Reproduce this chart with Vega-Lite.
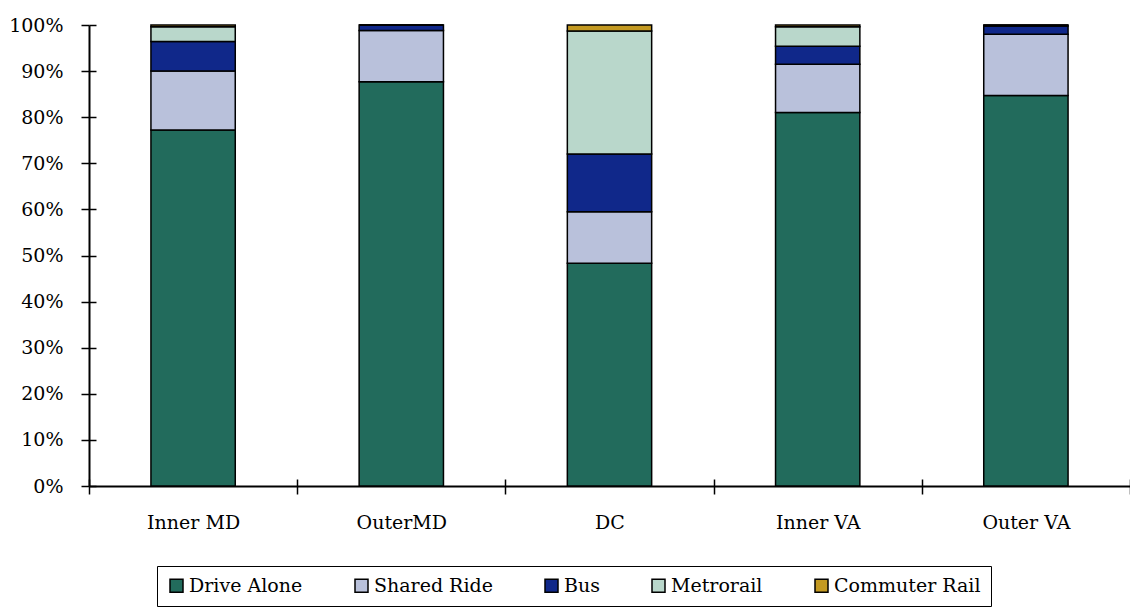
{
  "$schema": "https://vega.github.io/schema/vega-lite/v6.json",
  "width": 1041,
  "height": 461,
  "autosize": "none",
  "padding": {"left": 89, "top": 25, "right": 0, "bottom": 125},
  "background": "white",
  "config": {
    "view": {"stroke": null},
    "font": "DejaVu Serif"
  },
  "data": {
    "values": [
      {"region": "Inner MD", "mode": "Drive Alone", "share": 0.772},
      {"region": "Inner MD", "mode": "Shared Ride", "share": 0.128},
      {"region": "Inner MD", "mode": "Bus", "share": 0.064},
      {"region": "Inner MD", "mode": "Metrorail", "share": 0.032},
      {"region": "Inner MD", "mode": "Commuter Rail", "share": 0.004},
      {"region": "OuterMD", "mode": "Drive Alone", "share": 0.877},
      {"region": "OuterMD", "mode": "Shared Ride", "share": 0.111},
      {"region": "OuterMD", "mode": "Bus", "share": 0.012},
      {"region": "OuterMD", "mode": "Metrorail", "share": 0.0},
      {"region": "OuterMD", "mode": "Commuter Rail", "share": 0.0},
      {"region": "DC", "mode": "Drive Alone", "share": 0.483},
      {"region": "DC", "mode": "Shared Ride", "share": 0.112},
      {"region": "DC", "mode": "Bus", "share": 0.125},
      {"region": "DC", "mode": "Metrorail", "share": 0.267},
      {"region": "DC", "mode": "Commuter Rail", "share": 0.013},
      {"region": "Inner VA", "mode": "Drive Alone", "share": 0.81},
      {"region": "Inner VA", "mode": "Shared Ride", "share": 0.105},
      {"region": "Inner VA", "mode": "Bus", "share": 0.039},
      {"region": "Inner VA", "mode": "Metrorail", "share": 0.042},
      {"region": "Inner VA", "mode": "Commuter Rail", "share": 0.004},
      {"region": "Outer VA", "mode": "Drive Alone", "share": 0.847},
      {"region": "Outer VA", "mode": "Shared Ride", "share": 0.133},
      {"region": "Outer VA", "mode": "Bus", "share": 0.018},
      {"region": "Outer VA", "mode": "Metrorail", "share": 0.002},
      {"region": "Outer VA", "mode": "Commuter Rail", "share": 0.0}
    ]
  },
  "transform": [
    {
      "calculate": "indexof(['Drive Alone', 'Shared Ride', 'Bus', 'Metrorail', 'Commuter Rail'], datum.mode)",
      "as": "stackOrder"
    }
  ],
  "mark": {"type": "bar", "stroke": "black", "strokeWidth": 1.5, "width": {"band": 0.405}},
  "encoding": {
    "x": {
      "field": "region",
      "type": "nominal",
      "sort": null,
      "scale": {"paddingInner": 0, "paddingOuter": 0},
      "axis": {
        "title": null,
        "labelAngle": 0,
        "labelFontSize": 19,
        "labelColor": "black",
        "labelPadding": 19,
        "tickBand": "extent",
        "tickSize": 8,
        "tickColor": "black",
        "tickWidth": 1.5,
        "domainColor": "black",
        "domainWidth": 2,
        "grid": true,
        "gridDash": [7, 454],
        "gridDashOffset": 7,
        "gridColor": "black",
        "gridWidth": 1.5,
        "gridOpacity": 1
      }
    },
    "y": {
      "field": "share",
      "type": "quantitative",
      "stack": "zero",
      "scale": {"domain": [0, 1], "nice": false},
      "axis": {
        "title": null,
        "format": ".0%",
        "values": [0, 0.1, 0.2, 0.3, 0.4, 0.5, 0.6, 0.7, 0.8, 0.9, 1],
        "labelFontSize": 19,
        "labelColor": "black",
        "labelPadding": 18,
        "tickSize": 8,
        "tickColor": "black",
        "tickWidth": 1.5,
        "domainColor": "black",
        "domainWidth": 2,
        "grid": true,
        "gridDash": [7, 3000],
        "gridColor": "black",
        "gridWidth": 1.5,
        "gridOpacity": 1
      }
    },
    "color": {
      "field": "mode",
      "type": "nominal",
      "sort": ["Drive Alone", "Shared Ride", "Bus", "Metrorail", "Commuter Rail"],
      "scale": {
        "domain": ["Drive Alone", "Shared Ride", "Bus", "Metrorail", "Commuter Rail"],
        "range": ["#226B5C", "#B9C1DB", "#10288A", "#B9D7CB", "#C49A22"]
      },
      "legend": {
        "title": null,
        "orient": "none",
        "legendX": 68,
        "legendY": 541,
        "direction": "horizontal",
        "strokeColor": "black",
        "padding": 10,
        "columnPadding": 49,
        "symbolType": "square",
        "symbolSize": 169,
        "symbolStrokeColor": "black",
        "symbolStrokeWidth": 1.5,
        "symbolOpacity": 1,
        "labelFontSize": 19,
        "labelColor": "black",
        "labelOffset": 3,
        "labelLimit": 400,
        "encoding": {"legend": {"update": {"strokeWidth": {"value": 1.5}}}}
      }
    },
    "order": {"field": "stackOrder", "type": "quantitative", "sort": "ascending"}
  }
}
